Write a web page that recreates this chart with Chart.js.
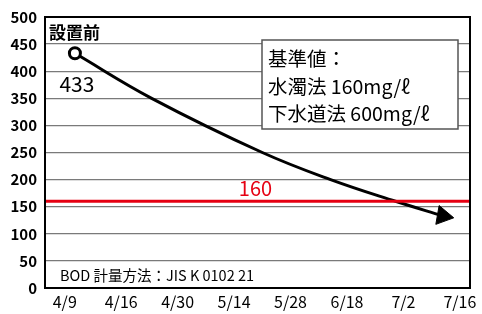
<!DOCTYPE html>
<html>
<head>
<meta charset="utf-8">
<script src="https://cdn.jsdelivr.net/npm/chart.js@4/dist/chart.umd.min.js"></script>
<style>
  html, body { margin: 0; padding: 0; background: #fff; }
  #wrap { width: 482px; height: 314px; }
</style>
</head>
<body>
<div id="wrap"><canvas id="c"></canvas></div>
<script>
// 日付ラベル
const dateLabels = ['4/9', '4/16', '4/30', '5/14', '5/28', '6/18', '7/2', '7/16'];
// BOD の推移（x は日付ラベルの位置）
const curveX = [0.18, 1.54, 3.5, 4.71, 5.86, 6.7];
const curveY = [433, 350, 250, 200, 160, 133];
// 基準値ライン
const limitValue = 160;
const yTicks = [0, 50, 100, 150, 200, 250, 300, 350, 400, 450, 500];

const FONT = '"Noto Sans CJK JP", "Noto Sans", sans-serif';
const RED = '#e60012';

const pts = curveX.map((x, i) => ({ x: x, y: curveY[i] }));
const last = pts.length - 1;

// 枠線と注記
const notes = {
  id: 'notes',
  afterDraw(chart) {
    const { ctx, chartArea: a, scales: { x, y } } = chart;
    ctx.save();
    ctx.strokeStyle = '#000';
    ctx.lineWidth = 2;
    ctx.strokeRect(a.left, a.top, a.right - a.left, a.bottom - a.top);

    ctx.fillStyle = '#000';
    ctx.textBaseline = 'middle';
    ctx.textAlign = 'left';
    ctx.font = 'bold 17px ' + FONT;
    ctx.fillText('設置前', a.left + 4, a.top + 16);

    ctx.font = '21px ' + FONT;
    ctx.textAlign = 'center';
    ctx.fillText(String(curveY[0]), x.getPixelForValue(curveX[0]) + 2, y.getPixelForValue(curveY[0]) + 31);

    ctx.fillStyle = RED;
    ctx.font = '20px ' + FONT;
    ctx.fillText(String(limitValue), x.getPixelForValue(3.38), y.getPixelForValue(limitValue) - 13);

    // 基準値ボックス
    ctx.fillStyle = '#fff';
    ctx.fillRect(262, 40, 196, 89);
    ctx.strokeStyle = '#555';
    ctx.lineWidth = 1.5;
    ctx.strokeRect(262, 40, 196, 89);
    ctx.fillStyle = '#000';
    ctx.textAlign = 'left';
    ctx.font = '19.5px ' + FONT;
    ctx.fillText('基準値：', 268, 59);
    ctx.fillText('水濁法 160mg/ℓ', 268, 87);
    ctx.fillText('下水道法 600mg/ℓ', 268, 114);

    ctx.font = '14.5px ' + FONT;
    ctx.fillText('BOD 計量方法：JIS K 0102 21', 60, 275);
    ctx.restore();
  }
};

new Chart(document.getElementById('c'), {
  type: 'scatter',
  data: {
    datasets: [
      {
        data: [{ x: -0.35, y: limitValue }, { x: 7.18, y: limitValue }],
        showLine: true,
        borderColor: RED,
        borderWidth: 3,
        pointRadius: 0
      },
      {
        data: pts,
        showLine: true,
        borderColor: '#000',
        borderWidth: 3,
        tension: 0.4,
        pointStyle: pts.map((p, i) => i === last ? 'triangle' : 'circle'),
        pointRadius: pts.map((p, i) => i === 0 ? 5.5 : (i === last ? 11 : 0)),
        pointRotation: pts.map((p, i) => i === last ? 100 : 0),
        pointBackgroundColor: pts.map((p, i) => i === last ? '#000' : '#fff'),
        pointBorderColor: '#000',
        pointBorderWidth: pts.map((p, i) => i === last ? 1 : 3)
      }
    ]
  },
  options: {
    responsive: true,
    maintainAspectRatio: false,
    animation: false,
    layout: { padding: { top: 17, right: 7, left: 0, bottom: 0 } },
    plugins: { legend: { display: false }, tooltip: { enabled: false } },
    scales: {
      x: {
        type: 'linear',
        min: -0.35,
        max: 7.18,
        afterBuildTicks: s => { s.ticks = dateLabels.map((d, i) => ({ value: i })); },
        afterFit: s => { s.height = 26; },
        ticks: {
          color: '#000',
          font: { family: FONT, size: 16 },
          padding: 4,
          maxRotation: 0,
          autoSkip: false,
          callback: v => dateLabels[v]
        },
        grid: { display: false, drawTicks: false },
        border: { color: '#000', width: 2 }
      },
      y: {
        min: 0,
        max: 500,
        afterBuildTicks: s => { s.ticks = yTicks.map(v => ({ value: v })); },
        afterFit: s => { s.width = 45; },
        ticks: {
          color: '#000',
          font: { family: FONT, size: 15, weight: 'bold' },
          padding: 8
        },
        grid: { color: '#7a7a7a', lineWidth: 1.3, drawTicks: false },
        border: { color: '#000', width: 2 }
      }
    }
  },
  plugins: [notes]
});
</script>
</body>
</html>
